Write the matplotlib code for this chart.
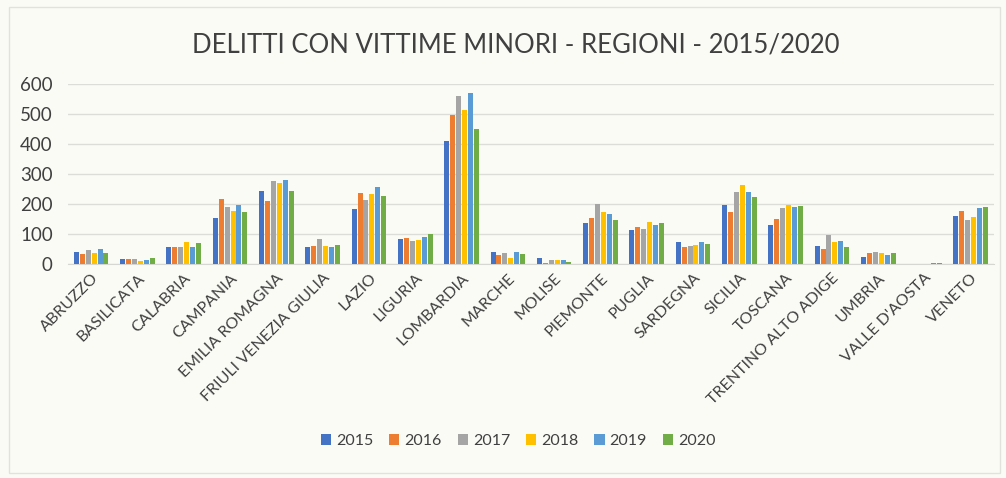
import matplotlib
matplotlib.use("Agg")
import matplotlib.pyplot as plt
import numpy as np
from matplotlib.patches import Rectangle

regions = ["ABRUZZO", "BASILICATA", "CALABRIA", "CAMPANIA", "EMILIA ROMAGNA",
           "FRIULI VENEZIA GIULIA", "LAZIO", "LIGURIA", "LOMBARDIA", "MARCHE",
           "MOLISE", "PIEMONTE", "PUGLIA", "SARDEGNA", "SICILIA", "TOSCANA",
           "TRENTINO ALTO ADIGE", "UMBRIA", "VALLE D'AOSTA", "VENETO"]
years = ["2015", "2016", "2017", "2018", "2019", "2020"]

v2015 = [40, 18, 56, 154, 244, 58, 183, 82, 409, 39, 19, 138, 112, 72, 196, 130, 61, 24, 0, 160]
v2016 = [33, 16, 56, 218, 209, 61, 236, 86, 497, 29, 4, 153, 122, 57, 174, 150, 50, 36, 0, 178]
v2017 = [47, 18, 58, 189, 276, 82, 214, 78, 561, 37, 12, 199, 117, 61, 239, 188, 96, 39, 0, 145]
v2018 = [38, 11, 73, 176, 269, 60, 232, 81, 514, 21, 12, 173, 141, 62, 263, 198, 73, 35, 0, 158]
v2019 = [51, 13, 56, 198, 279, 56, 258, 90, 570, 41, 12, 165, 130, 72, 239, 190, 76, 30, 4, 187]
v2020 = [38, 19, 69, 174, 242, 63, 227, 99, 450, 32, 7, 148, 137, 65, 223, 194, 56, 36, 4, 189]
series = [v2015, v2016, v2017, v2018, v2019, v2020]
colors = ["#4472C4", "#ED7D31", "#A5A5A5", "#FFC000", "#5B9BD5", "#70AD47"]

plt.rcParams['font.family'] = ['Lato', 'DejaVu Sans']
bg = "#fbfbf6"
fig = plt.figure(figsize=(10.06, 4.78), dpi=100, facecolor=bg)
ax = fig.add_axes([0.0676, 0.4477, 0.9204, 0.3766], facecolor=bg)

# chart border
fig.patches.append(Rectangle((0.009, 0.01), 0.985, 0.975, transform=fig.transFigure,
                             fill=False, edgecolor="#e2e2dc", linewidth=1.0))

x = np.arange(len(regions))
slot = 0.128
bw = 0.108
for i, (vals, c, yr) in enumerate(zip(series, colors, years)):
    ax.bar(x + (i - 2.5) * slot, vals, width=bw, color=c, label=yr, zorder=3)

ax.set_xlim(-0.5, len(regions) - 0.5)
ax.set_ylim(0, 600)
ax.set_yticks(range(0, 601, 100))
ax.yaxis.grid(True, color="#dcdcd8", linewidth=1.0, zorder=0)
for s in ["top", "right", "left"]:
    ax.spines[s].set_visible(False)
ax.spines["bottom"].set_color("#d6d6d2")
ax.tick_params(axis="both", length=0)
ax.tick_params(axis="y", labelsize=13.5, colors="#404040", pad=11)
ax.set_xticks(x)
ax.set_xticklabels(regions, rotation=45, ha="right", rotation_mode="anchor",
                   fontsize=11.5, color="#404040")
ax.tick_params(axis="x", pad=5)

fig.text(0.513, 0.905, "DELITTI CON VITTIME MINORI - REGIONI - 2015/2020",
         ha="center", va="center", fontsize=18.5, color="#404040")

fig.legend(loc="center", bbox_to_anchor=(0.515, 0.077), ncol=6, frameon=False,
           fontsize=11.5, handlelength=0.65, handleheight=0.65, handletextpad=0.3,
           columnspacing=1.0, labelcolor="#404040")

fig.savefig("out.png", dpi=100, facecolor=bg)
